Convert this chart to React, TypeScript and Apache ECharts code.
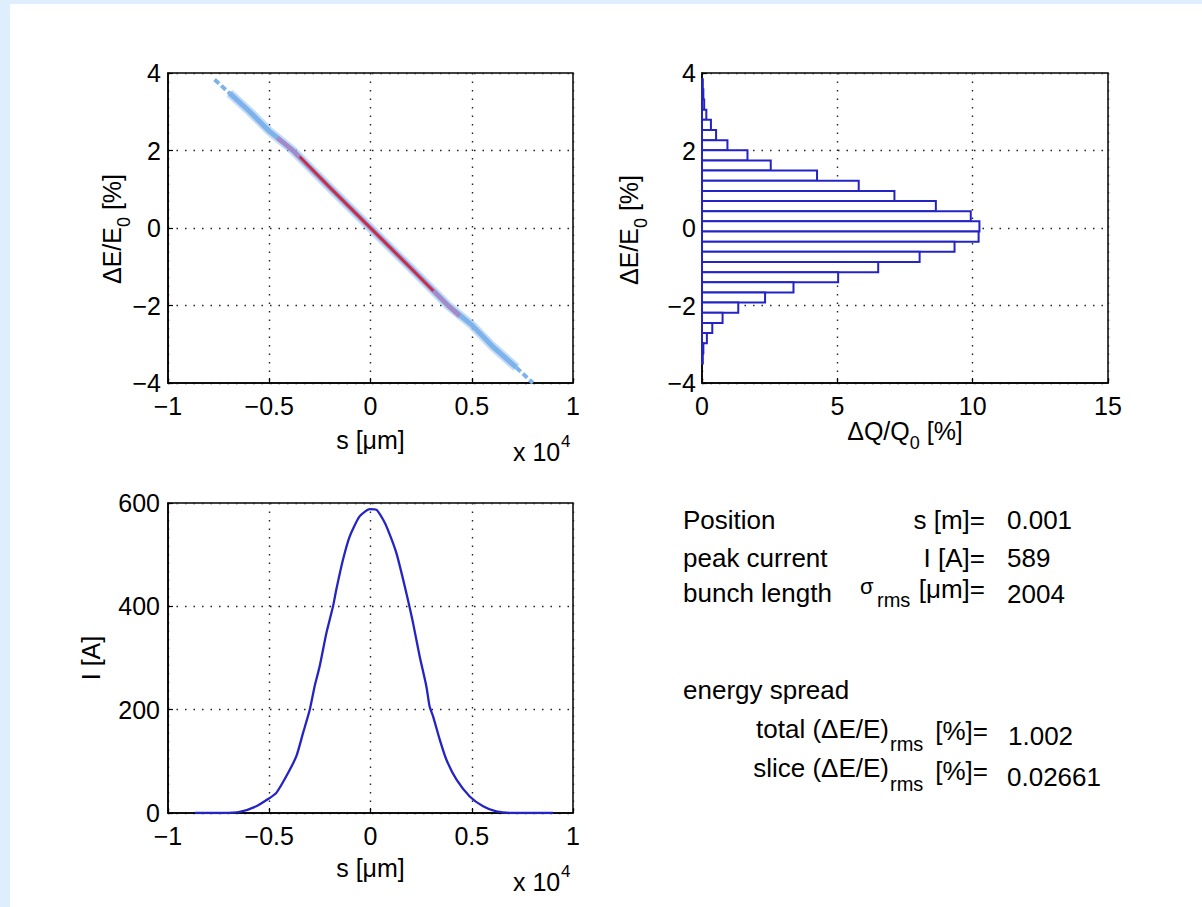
import React, { useEffect, useRef } from "react";
import * as echarts from "echarts";

const FONT = "'Liberation Sans', Arial, Helvetica, sans-serif";

// ---- Top-left: longitudinal phase space (band) ----
const bandS = [-6960, -6000, -5000, -3830, -2000, 0, 2000, 3830, 5000, 6000, 7200];
const bandE = [3.48, 3.02, 2.5, 2.0, 1.04, 0, -1.04, -2.0, -2.5, -3.04, -3.6];
const tailUpperS = [-7700, -6960];
const tailUpperE = [3.83, 3.48];
const tailLowerS = [7200, 8020];
const tailLowerE = [-3.6, -4.0];
const coreS = [-4600, -3830, -2000, 0, 2000, 3830, 4400];
const coreE = [2.33, 2.0, 1.04, 0, -1.04, -2.0, -2.27];
const redS = [-3500, -2000, 0, 2000, 3100];
const redE = [1.84, 1.04, 0, -1.04, -1.62];

// ---- Top-right: energy histogram ----
const histCenters = [3.708, 3.446, 3.184, 2.922, 2.66, 2.398, 2.136, 1.874, 1.612, 1.35, 1.088, 0.826, 0.564, 0.302, 0.04, -0.222, -0.484, -0.746, -1.008, -1.27, -1.532, -1.794, -2.056, -2.318, -2.58, -2.842, -3.104, -3.366];
const histValues = [0.03, 0.05, 0.08, 0.16, 0.33, 0.52, 0.94, 1.68, 2.54, 4.25, 5.79, 7.11, 8.64, 9.93, 10.25, 10.22, 9.33, 8.04, 6.51, 5.03, 3.38, 2.33, 1.34, 0.76, 0.38, 0.18, 0.05, 0.03];
const histBinWidth = 0.262;

// ---- Bottom-left: current profile ----
const currentS = [-8680, -7280, -6460, -5640, -5060, -4650, -4160, -3660, -3330, -3000, -2760, -2510, -2180, -1850, -1690, -1360, -1030, -540, -40, 290, 620, 860, 1280, 1770, 2100, 2430, 2760, 2920, 3090, 3420, 3750, 4240, 4900, 5560, 6210, 7040, 9010];
const currentI = [0, 0, 2, 13, 27, 39, 71, 110, 155, 200, 245, 284, 348, 400, 432, 490, 535, 574, 588, 587, 568, 548, 503, 426, 368, 303, 245, 206, 187, 142, 103, 65, 32, 13, 3, 0, 0];

// ---- Text panel ----
const statLabels = ["Position", "peak current", "bunch length"];
const statUnits = ["s [m]=", "I [A]=", "[μm]="];
const statValues = ["0.001", "589", "2004"];
const spreadValues = ["1.002", "0.02661"];

// ---- Axis titles with subscripts ----
const energyTitle = ["ΔE/E", "0", " [%]"];
const chargeTitle = ["ΔQ/Q", "0", " [%]"];

const zip = (a: number[], b: number[]) => a.map((v, i) => [v, b[i]]);
const fmt = (v: number) => String(Math.round(v * 1000) / 1000).replace("-", "\u2212");

const BLUE = "#2424c4";
const PF = 26; // panel font size

let measureCtx: CanvasRenderingContext2D | null = null;
function measure(t: string, size: number) {
  if (!measureCtx) measureCtx = document.createElement("canvas").getContext("2d");
  if (!measureCtx) return t.length * size * 0.55;
  measureCtx.font = `${size}px ${FONT}`;
  return measureCtx.measureText(t).width;
}

function axisBase(extra: any) {
  return {
    type: "value",
    axisLine: { show: true, onZero: false, lineStyle: { color: "#000", width: 1.5 } },
    axisTick: { show: true, inside: true, length: 5, lineStyle: { color: "#000", width: 1.2 } },
    axisLabel: { color: "#000", fontSize: 25, fontFamily: FONT, margin: 10 },
    splitLine: { show: true, lineStyle: { color: "#222", type: [1.5, 7], width: 1.4 } },
    nameLocation: "middle",
    nameTextStyle: { color: "#000", fontSize: 25, fontFamily: FONT },
    ...extra,
  };
}

function txt(x: number, y: number, text: string, size = 25, align = "left") {
  return {
    type: "text",
    x,
    y,
    silent: true,
    style: {
      text,
      fontSize: size,
      fontFamily: FONT,
      fill: "#000",
      align,
      textAlign: align,
      verticalAlign: "middle",
      textVerticalAlign: "middle",
    },
  };
}

// title "main" + subscript + rest, centred on (cx, cy); rotated for vertical axes
function subTitle(cx: number, cy: number, parts: string[], vertical: boolean) {
  const w0 = measure(parts[0], 25);
  const w1 = measure(parts[1], 18);
  const w2 = measure(parts[2], 25);
  const start = -(w0 + w1 + w2) / 2;
  return {
    type: "group",
    x: cx,
    y: cy,
    rotation: vertical ? Math.PI / 2 : 0,
    silent: true,
    children: [
      txt(start, 0, parts[0], 25),
      txt(start + w0, 12, parts[1], 18),
      txt(start + w0 + w1, 0, parts[2], 25),
    ],
  };
}

export default function App() {
  const ref = useRef<HTMLDivElement>(null);

  useEffect(() => {
    document.body.style.margin = "0";
    if (!ref.current) return;
    const chart = echarts.init(ref.current, undefined, { renderer: "svg" });

    const gridBox = { show: true, borderColor: "#000", borderWidth: 1.5, backgroundColor: "#fff" };

    const lineBase = {
      type: "line",
      showSymbol: false,
      symbol: "none",
      silent: true,
      animation: false,
      emphasis: { disabled: true },
    };

    const option: any = {
      animation: false,
      textStyle: { fontFamily: FONT },
      grid: [
        { left: 168, top: 73, width: 405, height: 310, ...gridBox },
        { left: 702, top: 73, width: 406, height: 310, ...gridBox },
        { left: 168, top: 503, width: 405, height: 310, ...gridBox },
      ],
      xAxis: [
        axisBase({
          gridIndex: 0, min: -10000, max: 10000, interval: 5000,
          name: "s [μm]", nameGap: 44,
          axisLabel: { color: "#000", fontSize: 25, fontFamily: FONT, margin: 10, formatter: (v: number) => fmt(v / 10000) },
        }),
        axisBase({
          gridIndex: 1, min: 0, max: 15, interval: 5,
          axisLabel: { color: "#000", fontSize: 25, fontFamily: FONT, margin: 10, formatter: (v: number) => fmt(v) },
        }),
        axisBase({
          gridIndex: 2, min: -10000, max: 10000, interval: 5000,
          name: "s [μm]", nameGap: 42,
          axisLabel: { color: "#000", fontSize: 25, fontFamily: FONT, margin: 10, formatter: (v: number) => fmt(v / 10000) },
        }),
      ],
      yAxis: [
        axisBase({
          gridIndex: 0, min: -4, max: 4, interval: 2,
          axisLabel: { color: "#000", fontSize: 25, fontFamily: FONT, margin: 7, formatter: (v: number) => fmt(v) },
        }),
        axisBase({
          gridIndex: 1, min: -4, max: 4, interval: 2,
          axisLabel: { color: "#000", fontSize: 25, fontFamily: FONT, margin: 6, formatter: (v: number) => fmt(v) },
        }),
        axisBase({
          gridIndex: 2, min: 0, max: 600, interval: 200,
          name: "I [A]", nameGap: 65, nameRotate: 90,
          axisLabel: { color: "#000", fontSize: 25, fontFamily: FONT, margin: 8, formatter: (v: number) => fmt(v) },
        }),
      ],
      series: [
        { ...lineBase, xAxisIndex: 0, yAxisIndex: 0, data: zip(bandS, bandE), lineStyle: { color: "#9cc5f0", width: 9, opacity: 0.6 }, z: 3 },
        { ...lineBase, xAxisIndex: 0, yAxisIndex: 0, data: zip(bandS, bandE), lineStyle: { color: "#7db2ea", width: 5 }, z: 4 },
        { ...lineBase, xAxisIndex: 0, yAxisIndex: 0, data: zip(tailUpperS, tailUpperE), lineStyle: { color: "#7db2ea", width: 4, type: [6, 3] }, z: 4 },
        { ...lineBase, xAxisIndex: 0, yAxisIndex: 0, data: zip(tailLowerS, tailLowerE), lineStyle: { color: "#7db2ea", width: 4, type: [6, 3] }, z: 4 },
        { ...lineBase, xAxisIndex: 0, yAxisIndex: 0, data: zip(coreS, coreE), lineStyle: { color: "#a48ac8", width: 4.5 }, z: 5 },
        { ...lineBase, xAxisIndex: 0, yAxisIndex: 0, data: zip(redS, redE), lineStyle: { color: "#cc2a3c", width: 2.5 }, z: 6 },
        {
          type: "custom",
          xAxisIndex: 1,
          yAxisIndex: 1,
          silent: true,
          data: zip(histValues, histCenters),
          encode: { x: 0, y: 1 },
          renderItem: (params: any, api: any) => {
            const len = api.value(0);
            const c = api.value(1);
            const p1 = api.coord([0, c + histBinWidth / 2]);
            const p2 = api.coord([len, c - histBinWidth / 2]);
            return {
              type: "rect",
              shape: { x: p1[0], y: p1[1], width: p2[0] - p1[0], height: p2[1] - p1[1] },
              style: { fill: "#fff", stroke: BLUE, lineWidth: 2 },
            };
          },
          z: 3,
        },
        { ...lineBase, xAxisIndex: 2, yAxisIndex: 2, data: zip(currentS, currentI), smooth: 0.2, lineStyle: { color: BLUE, width: 2.3 }, z: 3 },
      ],
      graphic: [
        subTitle(112, 229, energyTitle, true),
        subTitle(629, 230, energyTitle, true),
        subTitle(905, 431, chargeTitle, false),
        txt(513, 452, "x 10"),
        txt(561, 441, "4", 17),
        txt(513, 882, "x 10"),
        txt(561, 871, "4", 17),
        // stats block
        txt(683, 520, statLabels[0], PF),
        txt(985, 520, statUnits[0], PF, "right"),
        txt(1007, 520, statValues[0], PF),
        txt(683, 558, statLabels[1], PF),
        txt(985, 558, statUnits[1], PF, "right"),
        txt(1007, 558, statValues[1], PF),
        txt(683, 593, statLabels[2], PF),
        txt(860, 586, "σ", 22),
        txt(877, 600, "rms", 20),
        txt(985, 589, statUnits[2], PF, "right"),
        txt(1007, 594, statValues[2], PF),
        txt(683, 690, "energy spread", PF),
        txt(889, 729, "total (ΔE/E)", PF, "right"),
        txt(890, 744, "rms", 20),
        txt(988, 731, "[%]=", PF, "right"),
        txt(1008, 736, spreadValues[0], PF),
        txt(889, 768, "slice (ΔE/E)", PF, "right"),
        txt(890, 784, "rms", 20),
        txt(988, 771, "[%]=", PF, "right"),
        txt(1007, 777, spreadValues[1], PF),
      ],
    };

    chart.setOption(option);
    return () => chart.dispose();
  }, []);

  return (
    <div style={{ position: "relative", width: 1202, height: 907, background: "#dfeefd", overflow: "hidden" }}>
      <div style={{ position: "absolute", left: 10, top: 4, width: 1192, height: 903, background: "#fff" }} />
      <div ref={ref} style={{ position: "absolute", left: 0, top: 0, width: 1202, height: 907 }} />
    </div>
  );
}
